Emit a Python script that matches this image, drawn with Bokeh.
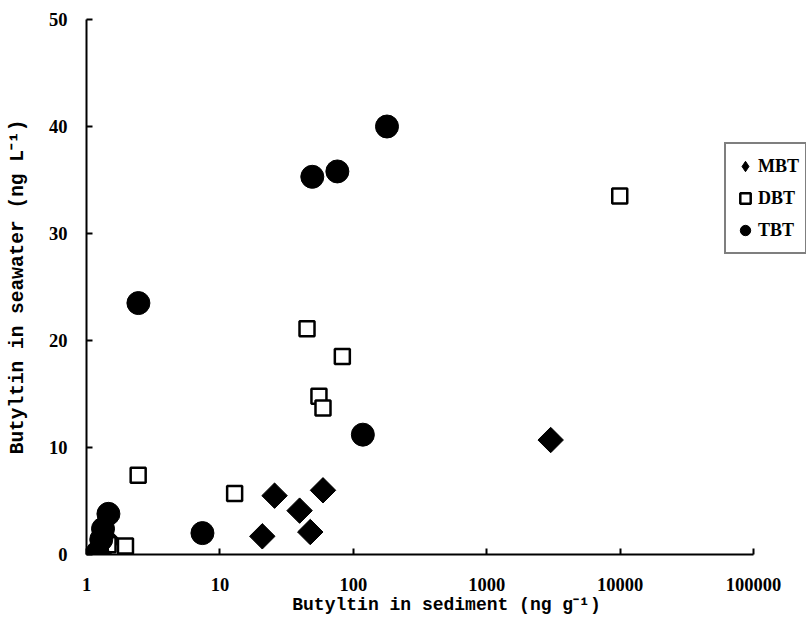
import math
from bokeh.plotting import figure
from bokeh.models import Range1d, FixedTicker, Legend, LegendItem
from bokeh.embed import file_html
from bokeh.resources import INLINE

# ---- data ----
x_ticks = [1, 10, 100, 1000, 10000, 100000]
x_labels = ["1", "10", "100", "1000", "10000", "100000"]
y_ticks = [0, 10, 20, 30, 40, 50]
y_labels = ["0", "10", "20", "30", "40", "50"]

mbt_sed = [20.8, 25.7, 39.6, 47.6, 59.3, 3020, 1.45, 1.3]
mbt_sea = [1.7, 5.5, 4.1, 2.1, 6.0, 10.7, 1.3, 0.4]

dbt_sed = [1.96, 2.44, 12.9, 45.0, 55.3, 59.3, 82.8, 9950, 1.45]
dbt_sea = [0.8, 7.4, 5.7, 21.1, 14.8, 13.7, 18.5, 33.5, 0.9]

tbt_sed = [1.21, 1.29, 1.33, 1.46, 2.45, 7.4, 49.3, 76.0, 118, 179]
tbt_sea = [0.2, 1.4, 2.4, 3.8, 23.5, 2.0, 35.3, 35.8, 11.2, 40.0]

# the frame runs on past the last tick so the legend (which overhangs the
# axis end in the reference) is not clipped; the axis itself stops at 1e5
x_view_end = 250000

p = figure(width=806, height=619, x_axis_type="log",
           x_range=Range1d(1, x_view_end), y_range=Range1d(0, 50),
           output_backend="svg", toolbar_location=None,
           min_border_left=86, min_border_right=0,
           min_border_top=19, min_border_bottom=65)
p.outline_line_color = None
p.xgrid.visible = False
p.ygrid.visible = False
p.background_fill_color = "white"
p.border_fill_color = "white"

for ax in (p.xaxis[0], p.yaxis[0]):
    ax.axis_line_width = 2
    ax.axis_line_color = "black"
    ax.major_tick_in = 6
    ax.major_tick_out = 0
    ax.major_tick_line_width = 2
    ax.minor_tick_in = 0
    ax.minor_tick_out = 0
    ax.major_label_text_font = "Liberation Serif"
    ax.major_label_text_font_style = "bold"
    ax.major_label_text_font_size = "18.5px"
    ax.major_label_text_color = "black"
    ax.axis_label_text_font = "Liberation Mono"
    ax.axis_label_text_font_style = "bold"
    ax.axis_label_text_color = "black"

p.xaxis.bounds = (x_ticks[0], x_ticks[-1])
p.xaxis.ticker = FixedTicker(ticks=x_ticks)
p.xaxis.major_label_overrides = {t: l for t, l in zip(x_ticks, x_labels)}
p.yaxis.ticker = FixedTicker(ticks=y_ticks)
p.yaxis.major_label_overrides = {t: l for t, l in zip(y_ticks, y_labels)}

p.xaxis.axis_label = "Butyltin in sediment (ng g\u207b\u00b9)"
p.yaxis.axis_label = "Butyltin in seawater (ng L\u207b\u00b9)"
p.xaxis.axis_label_text_font_size = "18px"
p.yaxis.axis_label_text_font_size = "19.5px"
p.xaxis.major_label_standoff = 23
p.xaxis.axis_label_standoff = 1
p.yaxis.major_label_standoff = 19
p.yaxis.axis_label_standoff = 17

# MBT: a legend-only diamond hidden below rotated squares
r_mbt_leg = p.scatter(mbt_sed, mbt_sea, marker="diamond", size=24,
                      fill_color="black", line_color="black")
p.scatter(mbt_sed, mbt_sea, marker="square", angle=math.pi / 4, size=18,
          fill_color="black", line_color="black")
r_dbt = p.scatter(dbt_sed, dbt_sea, marker="square", size=15,
                  fill_color="white", line_color="black", line_width=2.5)
r_tbt = p.scatter(tbt_sed, tbt_sea, marker="circle", size=23,
                  fill_color="black", line_color="black")

legend = Legend(items=[LegendItem(label="MBT", renderers=[r_mbt_leg]),
                       LegendItem(label="DBT", renderers=[r_dbt]),
                       LegendItem(label="TBT", renderers=[r_tbt])],
                location=(638, 300))
legend.border_line_color = "black"
legend.border_line_width = 2
legend.background_fill_color = "white"
legend.background_fill_alpha = 1
legend.label_text_font = "Liberation Serif"
legend.label_text_font_style = "bold"
legend.label_text_font_size = "18px"
legend.label_text_color = "black"
legend.glyph_width = 26
legend.glyph_height = 32
legend.label_height = 32
legend.padding = 6
legend.spacing = 0
legend.label_standoff = 0
legend.margin = 0
p.add_layout(legend, "center")

open("out.html", "w").write(file_html(p, INLINE))
